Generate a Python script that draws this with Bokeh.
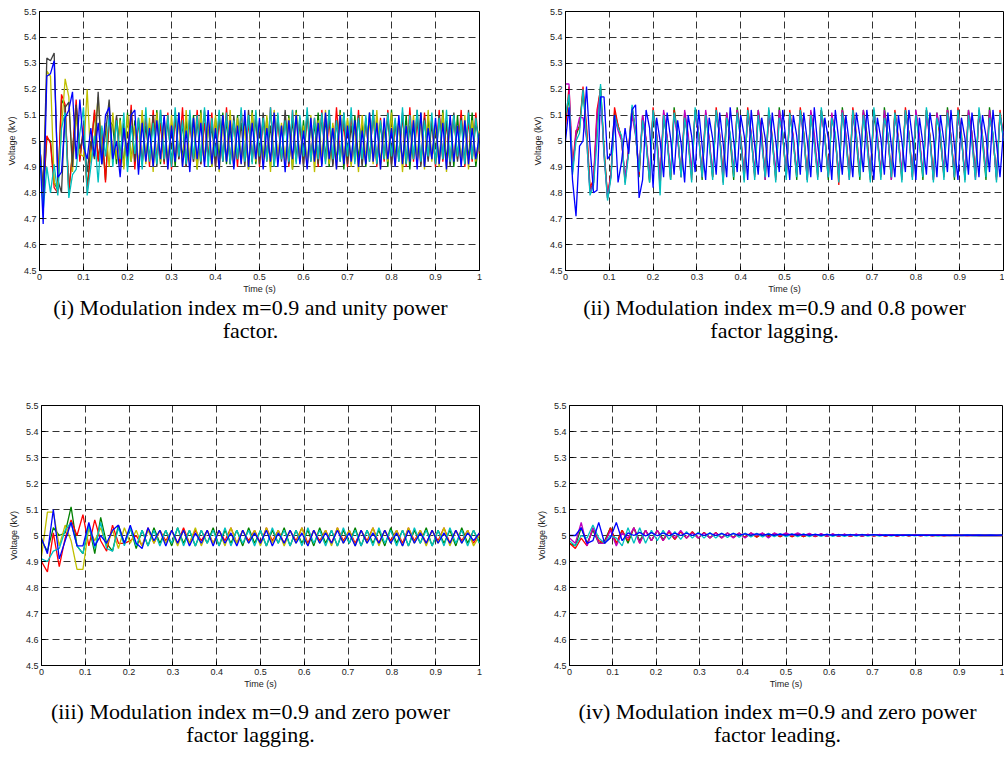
import numpy as np
from bokeh.plotting import figure
from bokeh.models import FixedTicker, Range1d
from bokeh.core.properties import value
from bokeh.layouts import column, row
from bokeh.embed import file_html
from bokeh.resources import INLINE

# ---------------- tick labels ----------------
x_ticks = [0, 0.1, 0.2, 0.3, 0.4, 0.5, 0.6, 0.7, 0.8, 0.9, 1]
x_tick_labels = ["0", "0.1", "0.2", "0.3", "0.4", "0.5", "0.6", "0.7", "0.8", "0.9", "1"]
y_ticks = [4.5, 4.6, 4.7, 4.8, 4.9, 5, 5.1, 5.2, 5.3, 5.4, 5.5]
y_tick_labels = ["4.5", "4.6", "4.7", "4.8", "4.9", "5", "5.1", "5.2", "5.3", "5.4", "5.5"]

x_label = "Time (s)"
y_label = "Voltage (kV)"

captions = [
    ("(i) Modulation index m=0.9 and unity power", "factor."),
    ("(ii) Modulation index m=0.9 and 0.8 power", "factor lagging."),
    ("(iii) Modulation index m=0.9 and zero power", "factor lagging."),
    ("(iv) Modulation index m=0.9 and zero power", "factor leading."),
]

# MATLAB default colour order
C_BLUE, C_GREEN, C_RED, C_CYAN, C_MAG, C_YEL, C_GRAY = (
    "#0000FF", "#008000", "#FF0000", "#00BFBF", "#BF00BF", "#BFBF00", "#404040")

# ---------------- panel (i): unity power factor (kV) ----------------
i_green = [5.00, 4.78, 5.01, 5.00, 4.84, 4.81, 5.16, 5.13, 4.80, 4.96,
           5.14, 4.93, 5.05, 4.82, 4.97, 5.11, 4.93, 5.04, 4.85, 5.08,
           5.06, 4.91, 5.09, 4.90, 5.11, 4.92, 5.08, 4.89, 5.10, 4.93,
           5.07, 4.90, 5.12, 4.91, 5.09, 4.92, 5.06, 4.90, 5.11, 4.93,
           5.08, 4.91, 5.10, 4.89, 5.12, 4.92, 5.07, 4.90, 5.09, 4.93,
           5.11, 4.91, 5.06, 4.90, 5.10, 4.92, 5.08, 4.89, 5.12, 4.91,
           5.07, 4.93, 5.09, 4.90, 5.11, 4.92, 5.06, 4.91, 5.10, 4.89,
           5.12, 4.92, 5.08, 4.90, 5.07, 4.93, 5.11, 4.91, 5.09, 4.90,
           5.06, 4.92, 5.12, 4.89, 5.08, 4.91, 5.10, 4.93, 5.07, 4.90,
           5.11, 4.92, 5.09, 4.91, 5.06, 4.90, 5.12, 4.93, 5.08, 4.91,
           5.10, 4.89, 5.07, 4.92, 5.11, 4.90, 5.09, 4.93, 5.06, 4.91,
           5.12, 4.92, 5.08, 4.90, 5.10, 4.91, 5.07, 4.93, 5.11, 4.90, 5.02]
i_red = [5.00, 4.80, 5.02, 4.99, 4.82, 4.80, 5.18, 5.14, 4.81, 4.95,
         5.16, 4.92, 5.06, 4.80, 4.96, 5.12, 4.92, 5.05, 4.84, 5.10,
         4.92, 5.09, 4.90, 5.06, 4.93, 5.14, 4.89, 5.08, 4.91, 5.10,
         4.90, 5.12, 4.92, 5.07, 4.91, 5.11, 4.89, 5.09, 4.93, 5.13,
         4.90, 5.08, 4.92, 5.12, 4.91, 5.07, 4.93, 5.11, 4.90, 5.09,
         4.92, 5.13, 4.91, 5.08, 4.90, 5.12, 4.93, 5.07, 4.92, 5.11,
         4.90, 5.09, 4.92, 5.13, 4.91, 5.08, 4.93, 5.10, 4.90, 5.12,
         4.92, 5.07, 4.91, 5.11, 4.93, 5.09, 4.90, 5.12, 4.92, 5.08,
         4.91, 5.13, 4.93, 5.07, 4.90, 5.10, 4.92, 5.12, 4.91, 5.08,
         4.93, 5.11, 4.90, 5.09, 4.92, 5.12, 4.91, 5.07, 4.93, 5.10,
         4.90, 5.13, 4.92, 5.08, 4.91, 5.11, 4.93, 5.09, 4.90, 5.12,
         4.92, 5.07, 4.91, 5.10, 4.93, 5.12, 4.90, 5.08, 4.92, 5.11, 4.95]
i_yellow = [5.00, 4.77, 5.27, 5.25, 4.84, 4.82, 5.05, 5.24, 5.17, 4.88,
            5.10, 4.95, 4.94, 5.20, 4.92, 5.02, 5.17, 4.95, 5.07, 4.90,
            5.11, 4.93, 5.08, 4.89, 5.10, 4.92, 5.06, 4.90, 5.12, 4.91,
            5.09, 4.88, 5.11, 4.92, 5.07, 4.89, 5.10, 4.93, 5.08, 4.90,
            5.12, 4.91, 5.06, 4.89, 5.11, 4.92, 5.08, 4.90, 5.10, 4.88,
            5.07, 4.93, 5.12, 4.90, 5.09, 4.91, 5.06, 4.89, 5.11, 4.92,
            5.08, 4.90, 5.10, 4.88, 5.12, 4.93, 5.07, 4.91, 5.09, 4.89,
            5.11, 4.92, 5.06, 4.90, 5.10, 4.88, 5.08, 4.93, 5.12, 4.91,
            5.07, 4.89, 5.11, 4.92, 5.09, 4.90, 5.06, 4.88, 5.10, 4.93,
            5.08, 4.91, 5.12, 4.89, 5.07, 4.92, 5.11, 4.90, 5.09, 4.88,
            5.06, 4.93, 5.10, 4.91, 5.08, 4.89, 5.12, 4.92, 5.07, 4.90,
            5.11, 4.88, 5.09, 4.93, 5.06, 4.91, 5.10, 4.89, 5.08, 4.92, 5.04]
i_gray = [5.00, 4.80, 5.32, 5.31, 5.34, 4.85, 4.80, 5.13, 5.15, 4.90,
          5.14, 4.97, 5.02, 4.88, 5.00, 4.93, 5.19, 4.91, 5.03, 5.16,
          4.92, 5.10, 4.94, 5.07, 4.90, 5.12, 4.92, 5.09, 4.91, 5.06,
          4.93, 5.10, 4.90, 5.12, 4.92, 5.08, 4.91, 5.11, 4.93, 5.07,
          4.90, 5.10, 4.92, 5.08, 4.91, 5.12, 4.93, 5.06, 4.90, 5.11,
          4.92, 5.08, 4.91, 5.10, 4.93, 5.07, 4.90, 5.12, 4.92, 5.09,
          4.91, 5.11, 4.93, 5.06, 4.90, 5.10, 4.92, 5.12, 4.91, 5.08,
          4.93, 5.09, 4.90, 5.11, 4.92, 5.07, 4.91, 5.10, 4.93, 5.12,
          4.90, 5.08, 4.92, 5.11, 4.91, 5.06, 4.93, 5.10, 4.90, 5.09,
          4.92, 5.12, 4.91, 5.07, 4.93, 5.10, 4.90, 5.08, 4.92, 5.11,
          4.91, 5.06, 4.93, 5.12, 4.90, 5.09, 4.92, 5.07, 4.91, 5.10,
          4.93, 5.08, 4.90, 5.11, 4.92, 5.09, 4.91, 5.12, 4.93, 5.07, 5.00]
i_cyan = [5.00, 4.73, 4.90, 4.80, 4.91, 4.79, 5.05, 5.11, 4.78, 4.87,
          4.89, 5.03, 5.13, 4.79, 4.90, 5.02, 4.84, 5.06, 4.94, 5.10,
          4.90, 5.08, 4.93, 5.11, 4.88, 5.06, 4.95, 5.09, 4.89, 5.13,
          4.92, 5.07, 4.91, 5.12, 4.93, 5.10, 4.90, 5.13, 4.94, 5.08,
          4.91, 5.12, 4.93, 5.10, 4.92, 5.13, 4.90, 5.09, 4.94, 5.12,
          4.92, 5.11, 4.91, 5.08, 4.93, 5.13, 4.92, 5.10, 4.91, 5.12,
          4.94, 5.09, 4.92, 5.13, 4.90, 5.11, 4.93, 5.08, 4.92, 5.12,
          4.91, 5.10, 4.94, 5.13, 4.92, 5.09, 4.93, 5.11, 4.91, 5.12,
          4.93, 5.08, 4.92, 5.11, 4.94, 5.13, 4.91, 5.09, 4.93, 5.10,
          4.92, 5.12, 4.91, 5.08, 4.93, 5.11, 4.94, 5.09, 4.92, 5.13,
          4.91, 5.10, 4.93, 5.12, 4.92, 5.08, 4.94, 5.11, 4.91, 5.09,
          4.93, 5.12, 4.92, 5.10, 4.94, 5.08, 4.91, 5.11, 4.93, 5.09, 4.96]
i_blue = [5.00, 4.68, 5.25, 5.26, 5.31, 4.86, 4.88, 5.09, 5.12, 5.19,
          4.93, 5.16, 4.98, 4.93, 5.05, 4.94, 5.07, 4.91, 5.10, 5.13,
          4.93, 5.00, 4.86, 5.05, 4.94, 5.10, 5.12, 4.87, 5.07, 4.92,
          5.05, 4.90, 5.08, 4.93, 5.10, 4.89, 5.06, 4.92, 5.11, 4.90,
          5.04, 4.88, 5.09, 4.93, 5.07, 4.90, 5.12, 4.91, 5.05, 4.89,
          5.10, 4.92, 5.08, 4.89, 5.06, 4.91, 5.12, 4.90, 5.07, 4.93,
          5.09, 4.89, 5.05, 4.92, 5.11, 4.90, 5.06, 4.88, 5.08, 4.93,
          5.10, 4.91, 5.04, 4.89, 5.09, 4.92, 5.07, 4.90, 5.11, 4.93,
          5.05, 4.89, 5.10, 4.91, 5.06, 4.92, 5.08, 4.90, 5.04, 4.91,
          5.11, 4.92, 5.07, 4.89, 5.09, 4.93, 5.05, 4.90, 5.10, 4.91,
          5.06, 4.92, 5.08, 4.89, 5.11, 4.90, 5.05, 4.93, 5.09, 4.91,
          5.07, 4.89, 5.10, 4.92, 5.06, 4.90, 5.08, 4.91, 5.05, 4.93, 5.03]

# ---------------- panel (ii): 0.8 power factor lagging (kV) ----------------
ii_green = [5.08, 5.17, 4.89, 5.02, 5.06, 5.19, 5.04, 4.81, 4.84, 5.08,
            5.21, 4.97, 4.78, 4.87, 5.11, 5.06, 5.01, 4.85, 4.96, 5.13,
            5.03, 4.86, 5.10, 5.00, 4.84, 5.12, 5.02, 4.86, 5.09, 5.01,
            4.85, 5.13, 5.02, 4.86, 5.11, 5.00, 4.87, 5.12, 5.03, 4.85,
            5.10, 5.01, 4.86, 5.12, 5.02, 4.87, 5.11, 5.00, 4.85, 5.13,
            5.02, 4.86, 5.10, 5.01, 4.87, 5.12, 5.03, 4.85, 5.11, 5.00,
            4.86, 5.13, 5.02, 4.87, 5.10, 5.01, 4.85, 5.12, 5.03, 4.86,
            5.11, 5.00, 4.87, 5.12, 5.02, 4.85, 5.10, 5.01, 4.86, 5.13,
            5.02, 4.87, 5.11, 5.00, 4.85, 5.12, 5.03, 4.86, 5.10, 5.01,
            4.87, 5.13, 5.02, 4.85, 5.11, 5.00, 4.86, 5.12, 5.03, 4.87,
            5.10, 5.01, 4.85, 5.12, 5.02, 4.86, 5.11, 5.00, 4.87, 5.13,
            5.02, 4.85, 5.10, 5.01, 4.86, 5.12, 5.03, 4.87, 5.11, 5.00,
            4.85, 5.13, 5.02, 4.86, 5.10, 5.01]
ii_red = [5.05, 5.21, 4.90, 5.04, 5.05, 5.21, 5.06, 4.82, 4.85, 5.12,
          5.20, 4.96, 4.79, 4.88, 5.13, 5.06, 5.01, 4.84, 4.97, 5.13,
          5.04, 4.87, 5.09, 5.00, 4.85, 5.13, 5.02, 4.82, 5.11, 5.01,
          4.86, 5.12, 5.02, 4.87, 5.10, 5.01, 4.85, 5.12, 5.03, 4.87,
          5.11, 5.00, 4.86, 5.13, 5.02, 4.84, 5.10, 5.02, 4.87, 5.12,
          5.01, 4.85, 5.13, 5.03, 4.86, 5.11, 5.00, 4.87, 5.12, 5.02,
          4.85, 5.10, 5.02, 4.86, 5.12, 5.01, 4.87, 5.13, 5.03, 4.85,
          5.11, 5.00, 4.86, 5.12, 5.02, 4.87, 5.10, 5.02, 4.83, 5.12,
          5.01, 4.86, 5.13, 5.03, 4.87, 5.11, 5.00, 4.85, 5.12, 5.02,
          4.86, 5.10, 5.02, 4.87, 5.12, 5.01, 4.85, 5.13, 5.03, 4.86,
          5.11, 5.00, 4.87, 5.12, 5.02, 4.85, 5.10, 5.02, 4.86, 5.12,
          5.01, 4.87, 5.13, 5.03, 4.85, 5.11, 5.00, 4.86, 5.12, 5.02,
          4.87, 5.10, 5.02, 4.85, 5.12, 5.01]
ii_magenta = [5.22, 5.22, 4.88, 5.03, 5.09, 5.09, 5.01, 4.80, 4.84, 5.10,
              5.19, 4.94, 4.78, 4.87, 5.09, 5.04, 5.00, 4.86, 4.96, 5.10,
              5.02, 4.89, 5.10, 5.01, 4.86, 5.11, 5.03, 4.85, 5.12, 5.02,
              4.87, 5.10, 5.01, 4.86, 5.12, 5.03, 4.88, 5.11, 5.02, 4.86,
              5.12, 5.01, 4.87, 5.10, 5.03, 4.85, 5.11, 5.02, 4.88, 5.12,
              5.01, 4.86, 5.10, 5.03, 4.87, 5.12, 5.02, 4.85, 5.11, 5.01,
              4.88, 5.12, 5.03, 4.86, 5.10, 5.02, 4.87, 5.11, 5.01, 4.85,
              5.12, 5.03, 4.88, 5.10, 5.02, 4.86, 5.11, 5.01, 4.87, 5.12,
              5.03, 4.85, 5.10, 5.02, 4.88, 5.12, 5.01, 4.86, 5.11, 5.03,
              4.87, 5.12, 5.02, 4.85, 5.10, 5.01, 4.88, 5.11, 5.03, 4.86,
              5.12, 5.02, 4.87, 5.10, 5.01, 4.85, 5.11, 5.03, 4.88, 5.12,
              5.02, 4.86, 5.10, 5.01, 4.87, 5.12, 5.03, 4.85, 5.11, 5.02,
              4.88, 5.12, 5.01, 4.86, 5.10, 5.03]
ii_cyan = [5.10, 5.18, 4.87, 5.00, 5.03, 5.20, 5.02, 4.79, 4.83, 5.00,
           5.22, 4.95, 4.77, 4.86, 5.10, 5.05, 5.02, 4.83, 4.95, 5.14,
           5.03, 4.88, 5.08, 4.99, 4.84, 5.12, 5.01, 4.79, 5.10, 5.00,
           4.85, 5.11, 5.03, 4.86, 5.09, 5.00, 4.84, 5.13, 5.02, 4.86,
           5.10, 4.99, 4.85, 5.12, 5.01, 4.83, 5.09, 5.03, 4.86, 5.11,
           5.00, 4.84, 5.12, 5.02, 4.85, 5.10, 4.99, 4.86, 5.13, 5.01,
           4.84, 5.09, 5.03, 4.85, 5.11, 5.00, 4.86, 5.12, 5.02, 4.84,
           5.10, 4.99, 4.85, 5.13, 5.01, 4.86, 5.09, 5.03, 4.84, 5.11,
           5.00, 4.85, 5.12, 5.02, 4.86, 5.10, 4.99, 4.84, 5.13, 5.01,
           4.85, 5.09, 5.03, 4.86, 5.11, 5.00, 4.84, 5.12, 5.02, 4.85,
           5.10, 4.99, 4.86, 5.13, 5.01, 4.84, 5.09, 5.03, 4.85, 5.11,
           5.00, 4.86, 5.12, 5.02, 4.84, 5.10, 4.99, 4.85, 5.13, 5.01,
           4.86, 5.09, 5.03, 4.84, 5.11, 5.00]
ii_blue = [5.00, 5.13, 4.85, 4.71, 4.98, 5.00, 5.21, 4.98, 4.80, 4.81,
           5.17, 5.17, 4.93, 4.95, 5.10, 4.84, 4.92, 5.05, 4.95, 5.12,
           5.14, 4.78, 4.85, 5.12, 5.05, 4.82, 5.09, 5.00, 4.86, 5.11,
           5.01, 4.87, 5.08, 4.99, 4.84, 5.10, 5.02, 4.88, 5.12, 4.98,
           4.85, 5.09, 5.01, 4.87, 5.11, 4.99, 4.86, 5.13, 5.00, 4.88,
           5.10, 5.02, 4.85, 5.12, 4.98, 4.87, 5.09, 5.01, 4.86, 5.11,
           5.00, 4.88, 5.12, 4.99, 4.85, 5.10, 5.02, 4.87, 5.11, 5.00,
           4.86, 5.13, 4.98, 4.88, 5.09, 5.01, 4.85, 5.12, 5.00, 4.87,
           5.10, 4.99, 4.86, 5.11, 5.02, 4.88, 5.12, 5.00, 4.85, 5.09,
           5.01, 4.87, 5.11, 4.98, 4.86, 5.10, 5.00, 4.88, 5.12, 5.01,
           4.85, 5.09, 4.99, 4.87, 5.11, 5.02, 4.86, 5.10, 5.00, 4.88,
           5.12, 4.98, 4.85, 5.09, 5.01, 4.87, 5.11, 5.00, 4.86, 5.10,
           5.02, 4.88, 5.12, 4.99, 4.86, 5.04]

# ---------------- panel (iii): zero power factor lagging (kV) ----------------
iii_green = [4.98, 4.94, 5.03, 5.00, 5.01, 5.11, 4.96, 4.93, 5.04, 4.93,
             5.07, 4.97, 4.94, 5.04, 4.97, 5.03, 4.95, 5.02, 4.96, 5.03,
             4.97, 5.02, 4.96, 5.03, 4.97, 5.02, 4.96, 5.02, 4.97, 5.03,
             4.96, 5.02, 4.97, 5.02, 4.96, 5.03, 4.97, 5.02, 4.96, 5.02,
             4.97, 5.03, 4.96, 5.02, 4.97, 5.02, 4.96, 5.03, 4.97, 5.02,
             4.96, 5.02, 4.97, 5.03, 4.96, 5.02, 4.97, 5.02, 4.96, 5.03,
             4.97, 5.02, 4.96, 5.02, 4.97, 5.03, 4.96, 5.02, 4.97, 5.02,
             4.96, 5.03, 4.97, 5.02, 4.97]
iii_red = [4.90, 4.86, 5.01, 4.88, 4.99, 5.06, 5.00, 5.08, 4.96, 5.06,
           4.98, 4.94, 5.04, 4.97, 4.97, 4.98, 5.00, 4.96, 5.03, 4.97,
           5.02, 4.98, 5.02, 4.97, 5.03, 4.97, 5.02, 4.98, 5.02, 4.97,
           5.02, 4.98, 5.03, 4.97, 5.02, 4.98, 5.02, 4.97, 5.03, 4.98,
           5.02, 4.97, 5.02, 4.98, 5.03, 4.97, 5.02, 4.98, 5.02, 4.97,
           5.03, 4.98, 5.02, 4.97, 5.02, 4.98, 5.03, 4.97, 5.02, 4.98,
           5.02, 4.97, 5.03, 4.98, 5.02, 4.97, 5.02, 4.98, 5.03, 4.97,
           5.02, 4.98, 5.02, 4.97, 5.01]
iii_yellow = [4.92, 5.09, 5.09, 4.96, 5.04, 4.98, 4.87, 4.87, 5.03, 4.98,
              5.03, 4.96, 5.02, 4.95, 5.03, 4.97, 5.02, 4.96, 5.02, 4.97,
              5.02, 4.97, 5.02, 4.96, 5.02, 4.97, 5.03, 4.96, 5.02, 4.97,
              5.02, 4.96, 5.03, 4.97, 5.02, 4.97, 5.02, 4.96, 5.03, 4.97,
              5.02, 4.96, 5.02, 4.97, 5.03, 4.96, 5.02, 4.97, 5.02, 4.96,
              5.03, 4.97, 5.02, 4.96, 5.02, 4.97, 5.03, 4.96, 5.02, 4.97,
              5.02, 4.96, 5.03, 4.97, 5.02, 4.96, 5.02, 4.97, 5.03, 4.96,
              5.02, 4.97, 5.02, 4.96, 5.00]
iii_cyan = [4.91, 4.90, 4.94, 4.95, 5.02, 5.05, 4.96, 4.93, 5.04, 4.95,
            5.05, 4.95, 4.94, 5.03, 4.96, 5.03, 4.96, 5.02, 4.96, 5.02,
            4.96, 5.02, 4.97, 5.03, 4.96, 5.02, 4.96, 5.02, 4.97, 5.02,
            4.96, 5.03, 4.96, 5.02, 4.97, 5.02, 4.96, 5.02, 4.96, 5.03,
            4.97, 5.02, 4.96, 5.02, 4.96, 5.03, 4.97, 5.02, 4.96, 5.02,
            4.96, 5.03, 4.97, 5.02, 4.96, 5.02, 4.96, 5.03, 4.97, 5.02,
            4.96, 5.02, 4.96, 5.03, 4.97, 5.02, 4.96, 5.02, 4.96, 5.03,
            4.97, 5.02, 4.96, 5.02, 4.97]
iii_blue = [4.99, 4.93, 5.10, 4.91, 4.98, 5.05, 4.96, 4.96, 5.05, 4.96,
            5.00, 4.97, 5.02, 5.04, 4.97, 5.04, 4.97, 4.95, 5.03, 4.98,
            5.02, 4.96, 5.02, 4.97, 5.02, 4.96, 5.01, 4.97, 5.02, 4.96,
            5.02, 4.97, 5.01, 4.96, 5.02, 4.97, 5.01, 4.97, 5.02, 4.96,
            5.01, 4.97, 5.02, 4.97, 5.01, 4.96, 5.02, 4.97, 5.01, 4.97,
            5.02, 4.97, 5.01, 4.96, 5.02, 4.97, 5.01, 4.97, 5.02, 4.97,
            5.01, 4.96, 5.02, 4.97, 5.01, 4.97, 5.02, 4.97, 5.01, 4.97,
            5.02, 4.97, 5.01, 4.98, 5.01]

# ---------------- panel (iv): zero power factor leading (kV) ----------------
iv_green = [4.97, 4.96, 5.03, 4.97, 5.02, 4.97, 4.98, 5.03, 4.97, 5.02,
            4.97, 5.03, 4.98, 5.02, 4.98, 5.02, 4.985, 5.015, 4.985, 5.015,
            4.99, 5.014, 4.99, 5.012, 4.991, 5.011, 4.992, 5.01, 4.993, 5.009,
            4.993, 5.009, 4.994, 5.008, 4.995, 5.007, 4.995, 5.007, 4.996, 5.006,
            4.996, 5.005, 4.997, 5.005, 4.997, 5.004, 4.998, 5.004, 4.998, 5.003,
            4.998, 5.003, 4.999, 5.003, 4.999, 5.002, 4.999, 5.002, 4.999, 5.002,
            5.0, 5.002, 5.0, 5.001, 5.0, 5.001, 5.0, 5.001, 5.0, 5.001,
            5.0, 5.001, 5.0, 5.0, 5.0]
iv_red = [4.97, 4.95, 4.99, 4.96, 5.03, 4.98, 4.97, 5.03, 4.97, 5.02,
          4.98, 5.03, 4.97, 5.02, 4.98, 5.02, 4.98, 5.015, 4.985, 5.015,
          4.99, 5.015, 4.99, 5.012, 4.99, 5.012, 4.99, 5.01, 4.992, 5.01,
          4.993, 5.01, 4.993, 5.008, 4.994, 5.008, 4.995, 5.007, 4.995, 5.006,
          4.996, 5.006, 4.996, 5.005, 4.997, 5.005, 4.997, 5.004, 4.997, 5.004,
          4.998, 5.004, 4.998, 5.003, 4.998, 5.003, 4.998, 5.003, 4.999, 5.003,
          4.999, 5.002, 4.999, 5.002, 4.999, 5.002, 5.0, 5.002, 5.0, 5.002,
          5.0, 5.001, 5.0, 5.001, 5.0]
iv_magenta = [4.99, 4.97, 5.05, 4.96, 5.03, 4.97, 4.97, 5.02, 4.96, 5.01,
              4.99, 5.03, 4.97, 5.02, 4.98, 5.02, 4.98, 5.02, 4.99, 5.02,
              4.99, 5.01, 4.99, 5.01, 4.99, 5.01, 4.99, 5.01, 4.99, 5.01,
              4.99, 5.01, 5.0, 5.01, 4.99, 5.01, 5.0, 5.01, 5.0, 5.01,
              5.0, 5.008, 4.997, 5.007, 4.997, 5.006, 4.998, 5.005, 4.998, 5.005,
              4.998, 5.004, 4.999, 5.004, 4.999, 5.003, 4.999, 5.003, 5.0, 5.002,
              5.0, 5.002, 5.0, 5.002, 5.0, 5.001, 5.0, 5.001, 5.0, 5.001,
              5.0, 5.0, 5.0, 5.0, 5.0]
iv_cyan = [4.98, 4.96, 5.00, 4.99, 5.04, 4.99, 4.97, 5.00, 4.99, 4.96,
           5.03, 4.97, 5.03, 4.97, 5.02, 4.98, 5.02, 4.985, 5.015, 4.985,
           5.015, 4.99, 5.013, 4.99, 5.012, 4.99, 5.01, 4.992, 5.01, 4.993,
           5.009, 4.994, 5.008, 4.994, 5.008, 4.995, 5.007, 4.995, 5.006, 4.996,
           5.006, 4.996, 5.005, 4.997, 5.005, 4.997, 5.004, 4.997, 5.004, 4.998,
           5.004, 4.998, 5.003, 4.998, 5.003, 4.998, 5.003, 4.999, 5.003, 4.999,
           5.002, 4.999, 5.002, 4.999, 5.002, 5.0, 5.002, 5.0, 5.002, 5.0,
           5.001, 5.0, 5.001, 5.0, 5.001]
iv_blue = [5.00, 5.00, 5.03, 4.97, 4.98, 5.05, 4.97, 4.99, 5.05, 4.98,
           5.01, 5.00, 5.012, 4.998, 5.011, 4.999, 5.01, 4.999, 5.009, 5.0,
           5.009, 5.0, 5.008, 5.0, 5.008, 5.0, 5.007, 5.0, 5.007, 5.001,
           5.006, 5.001, 5.006, 5.001, 5.005, 5.001, 5.005, 5.001, 5.005, 5.001,
           5.004, 5.001, 5.004, 5.001, 5.004, 5.001, 5.003, 5.001, 5.003, 5.001,
           5.003, 5.001, 5.003, 5.001, 5.002, 5.001, 5.002, 5.001, 5.002, 5.001,
           5.002, 5.001, 5.002, 5.001, 5.002, 5.001, 5.002, 5.001, 5.002, 5.001,
           5.002, 5.001, 5.002, 5.001, 5.002]

panels = [
    [(i_green, C_GREEN), (i_red, C_RED), (i_yellow, C_YEL), (i_gray, C_GRAY),
     (i_cyan, C_CYAN), (i_blue, C_BLUE)],
    [(ii_green, C_GREEN), (ii_red, C_RED), (ii_magenta, C_MAG),
     (ii_cyan, C_CYAN), (ii_blue, C_BLUE)],
    [(iii_green, C_GREEN), (iii_red, C_RED), (iii_yellow, C_YEL),
     (iii_cyan, C_CYAN), (iii_blue, C_BLUE)],
    [(iv_green, C_GREEN), (iv_red, C_RED), (iv_magenta, C_MAG),
     (iv_cyan, C_CYAN), (iv_blue, C_BLUE)],
]

# plot layout in pixels: fig w, h, border left, right, top, bottom
plot_geometry = [
    (502, 296, 39, 23, 10, 26),
    (502, 296, 63, 1, 11, 25),
    (502, 302, 41, 23, 15, 26),
    (502, 302, 67, 2, 15, 27),
]
# caption strip layout in pixels: height, centre x, line-1 y, line-2 y (from strip top)
caption_geometry = [
    (94, 250, 11, 34),
    (94, 272, 11, 34),
    (81, 250, 19, 42),
    (81, 275, 19, 42),
]

TICK_FONT = "Liberation Sans"
CAP_FONT = "Liberation Serif"
CAP_SIZE = "22px"


def make_panel(series, geom):
    w, h, bl, br, bt, bb = geom
    p = figure(width=w, height=h, output_backend="svg", toolbar_location=None,
               x_range=Range1d(0, 1), y_range=Range1d(4.5, 5.5),
               min_border_left=bl, min_border_right=br,
               min_border_top=bt, min_border_bottom=bb,
               background_fill_color="white", border_fill_color="white",
               outline_line_color="black", outline_line_width=1)
    for vals, col in series:
        t = np.linspace(0, 1, len(vals))
        p.line(t, vals, line_color=col, line_width=1.3)

    p.xaxis.ticker = FixedTicker(ticks=x_ticks)
    p.yaxis.ticker = FixedTicker(ticks=y_ticks)
    p.xaxis.major_label_overrides = dict(zip(x_ticks, x_tick_labels))
    p.yaxis.major_label_overrides = dict(zip(y_ticks, y_tick_labels))
    for ax in (p.xaxis[0], p.yaxis[0]):
        ax.major_tick_in = 4
        ax.major_tick_out = 0
        ax.minor_tick_line_color = None
        ax.axis_line_color = "black"
        ax.major_label_text_font = TICK_FONT
        ax.major_label_text_font_size = "9px"
        ax.major_label_text_color = "#222222"
        ax.axis_label_text_font = TICK_FONT
        ax.axis_label_text_font_size = "9px"
        ax.axis_label_text_font_style = "normal"
        ax.axis_label_text_color = "#222222"
    p.xaxis.axis_label = x_label
    p.yaxis.axis_label = y_label
    p.xaxis.major_label_standoff = 3
    p.xaxis.axis_label_standoff = 1
    p.yaxis.major_label_standoff = 3
    p.yaxis.axis_label_standoff = 4

    p.grid.grid_line_color = "black"
    p.grid.grid_line_alpha = 0.8
    p.grid.grid_line_dash = "7 4"
    p.grid.grid_line_width = 1
    return p


def make_caption(cap, geom, width=502):
    h, cx, y1, y2 = geom
    c = figure(width=width, height=h, output_backend="svg", toolbar_location=None,
               x_range=Range1d(0, width), y_range=Range1d(h, 0),
               x_axis_type=None, y_axis_type=None,
               min_border=0, min_border_left=0, min_border_right=0,
               min_border_top=0, min_border_bottom=0,
               outline_line_color=None, background_fill_color="white",
               border_fill_color="white")
    c.grid.visible = False
    c.text(x=[cx, cx], y=[y1, y2], text=[cap[0], cap[1]],
           text_align="center", text_baseline="middle",
           text_font=value(CAP_FONT), text_font_size=CAP_SIZE,
           text_color="black")
    return c


plots = [make_panel(s, g) for s, g in zip(panels, plot_geometry)]
caps = [make_caption(c, g) for c, g in zip(captions, caption_geometry)]
layout = column(row(plots[0], plots[1]), row(caps[0], caps[1]),
                row(plots[2], plots[3]), row(caps[2], caps[3]))

open("out.html", "w").write(file_html(layout, INLINE))
